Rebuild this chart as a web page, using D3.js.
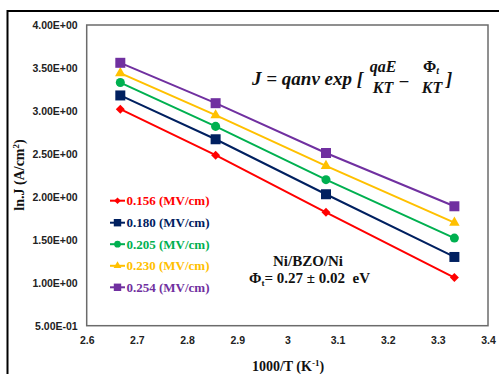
<!DOCTYPE html>
<html><head><meta charset="utf-8">
<script src="https://cdn.jsdelivr.net/npm/d3@7"></script>
<style>
html,body{margin:0;padding:0;background:#fff;}
svg{display:block;}
text{white-space:pre;}
</style></head>
<body>
<script>
const xValues = [2.667, 2.857, 3.077, 3.333];
const series156 = [3.02, 2.485, 1.82, 1.06];
const series180 = [3.18, 2.67, 2.03, 1.30];
const series205 = [3.33, 2.82, 2.20, 1.52];
const series230 = [3.44, 2.95, 2.36, 1.70];
const series254 = [3.56, 3.09, 2.51, 1.89];
const seriesNames = ["0.156", "0.180", "0.205", "0.230", "0.254"];
const xTicks = [2.6, 2.7, 2.8, 2.9, 3.0, 3.1, 3.2, 3.3, 3.4];
const yTicks = [0.5, 1.0, 1.5, 2.0, 2.5, 3.0, 3.5, 4.0];

const W = 499, H = 374;
const L = 86.7, R = 488, T = 25, B = 325.7;
const svg = d3.select("body").append("svg").attr("width", W).attr("height", H);

// outer frame
svg.append("line").attr("x1", 7.5).attr("x2", W).attr("y1", 11).attr("y2", 11).attr("stroke", "#000").attr("stroke-width", 2);
svg.append("line").attr("x1", 7.5).attr("x2", 7.5).attr("y1", 10).attr("y2", H).attr("stroke", "#000").attr("stroke-width", 2);

const x = d3.scaleLinear().domain([2.6, 3.4]).range([L, R]);
const y = d3.scaleLinear().domain([0.5, 4.0]).range([B, T]);

const fmtY = v => {
  const s = v.toExponential(2).toUpperCase();
  const m = s.match(/^(.*)E([+-])(\d+)$/);
  return m[1] + "E" + m[2] + m[3].padStart(2, "0");
};

const tickFont = "'Liberation Sans', Arial, sans-serif";
const serif = "'Liberation Serif', 'Times New Roman', serif";

const yAxis = d3.axisLeft(y).tickValues(yTicks).tickFormat(fmtY).tickSize(0).tickPadding(9);
const gy = svg.append("g").attr("transform", `translate(${L},0)`).call(yAxis);
const xAxis = d3.axisBottom(x).tickValues(xTicks).tickFormat(d => String(+d.toFixed(1))).tickSize(0).tickPadding(11);
const gx = svg.append("g").attr("transform", `translate(0,${B})`).call(xAxis);
[gx, gy].forEach(g => {
  g.select(".domain").remove();
  g.selectAll("text").attr("font-family", tickFont).attr("font-weight", "bold")
    .attr("font-size", "10.5px").attr("fill", "#222");
});

// plot box
svg.append("rect").attr("x", L).attr("y", T).attr("width", R - L).attr("height", B - T)
  .attr("fill", "none").attr("stroke", "#6b6b6b").attr("stroke-width", 1.5);

const colors = ["#ff0000", "#002060", "#00b050", "#ffc000", "#7030a0"];
const allSeries = [series156, series180, series205, series230, series254];
const symbols = [
  {type: d3.symbolSquare, size: 40, rot: 45},
  {type: d3.symbolSquare, size: 100, rot: 0},
  {type: d3.symbolCircle, size: 64, rot: 0},
  {type: d3.symbolTriangle, size: 48, rot: 0},
  {type: d3.symbolSquare, size: 100, rot: 0}
];

const line = d3.line().x(d => x(d[0])).y(d => y(d[1]));
allSeries.forEach((vals, i) => {
  const pts = vals.map((v, j) => [xValues[j], v]);
  svg.append("path").attr("d", line(pts)).attr("fill", "none")
    .attr("stroke", colors[i]).attr("stroke-width", 2);
  svg.selectAll(null).data(pts).enter().append("path")
    .attr("d", d3.symbol().type(symbols[i].type).size(symbols[i].size))
    .attr("transform", d => `translate(${x(d[0])},${y(d[1])}) rotate(${symbols[i].rot})`)
    .attr("fill", colors[i]);
});

// legend
const legY = [200.7, 222.7, 244.2, 265.8, 287.3];
seriesNames.forEach((n, i) => {
  const g = svg.append("g");
  g.append("line").attr("x1", 110).attr("x2", 125).attr("y1", legY[i]).attr("y2", legY[i])
    .attr("stroke", colors[i]).attr("stroke-width", 2);
  g.append("path").attr("d", d3.symbol().type(symbols[i].type).size(symbols[i].size * 0.55))
    .attr("transform", `translate(117.5,${legY[i]}) rotate(${symbols[i].rot})`).attr("fill", colors[i]);
  g.append("text").attr("x", 126.5).attr("y", legY[i] + 4.5).attr("font-family", serif)
    .attr("font-weight", "bold").attr("font-size", "13px").attr("fill", colors[i])
    .text(n + " (MV/cm)");
});

// equation
const eq = svg.append("g").attr("font-family", serif).attr("font-weight", "bold")
  .attr("font-style", "italic").attr("fill", "#111");
eq.append("text").attr("x", 252).attr("y", 85).attr("font-size", "19px").text("J = qanv exp [");
eq.append("text").attr("x", 383).attr("y", 72).attr("text-anchor", "middle").attr("font-size", "16px").text("qaE");
eq.append("text").attr("x", 383).attr("y", 92.5).attr("text-anchor", "middle").attr("font-size", "16px").text("KT");
eq.append("text").attr("x", 404).attr("y", 86).attr("text-anchor", "middle").attr("font-size", "17px").attr("font-style", "normal").text("\u2013");
const phi = eq.append("text").attr("x", 431).attr("y", 72).attr("text-anchor", "middle").attr("font-size", "16px");
phi.append("tspan").attr("font-style", "normal").text("\u03A6");
phi.append("tspan").attr("font-size", "10px").attr("dy", 2).text("t");
eq.append("text").attr("x", 432).attr("y", 92.5).attr("text-anchor", "middle").attr("font-size", "16px").text("KT");
eq.append("text").attr("x", 446).attr("y", 85).attr("font-size", "19px").text("]");

// annotation
const ann = svg.append("g").attr("font-family", serif).attr("font-weight", "bold").attr("fill", "#111");
ann.append("text").attr("x", 308).attr("y", 266).attr("text-anchor", "middle").attr("font-size", "15px").text("Ni/BZO/Ni");
const t2 = ann.append("text").attr("x", 249).attr("y", 283).attr("font-size", "15px");
t2.append("tspan").text("\u03A6");
t2.append("tspan").attr("font-size", "9px").attr("dy", 3).text("t");
t2.append("tspan").attr("dy", -3).text("= 0.27 \u00B1 0.02  eV");

// axis titles
const xt = svg.append("text").attr("x", 288).attr("y", 371).attr("text-anchor", "middle")
  .attr("font-family", serif).attr("font-weight", "bold").attr("font-size", "14px").attr("fill", "#111");
xt.append("tspan").text("1000/T (K");
xt.append("tspan").attr("font-size", "9px").attr("dy", -5).text("-1");
xt.append("tspan").attr("dy", 5).text(")");

const yt = svg.append("text").attr("transform", "translate(24,175) rotate(-90)").attr("text-anchor", "middle")
  .attr("font-family", serif).attr("font-weight", "bold").attr("font-size", "14px").attr("fill", "#111");
yt.append("tspan").text("ln.J (A/cm");
yt.append("tspan").attr("font-size", "9px").attr("dy", -5).text("2");
yt.append("tspan").attr("dy", 5).text(")");
</script>
</body></html>
